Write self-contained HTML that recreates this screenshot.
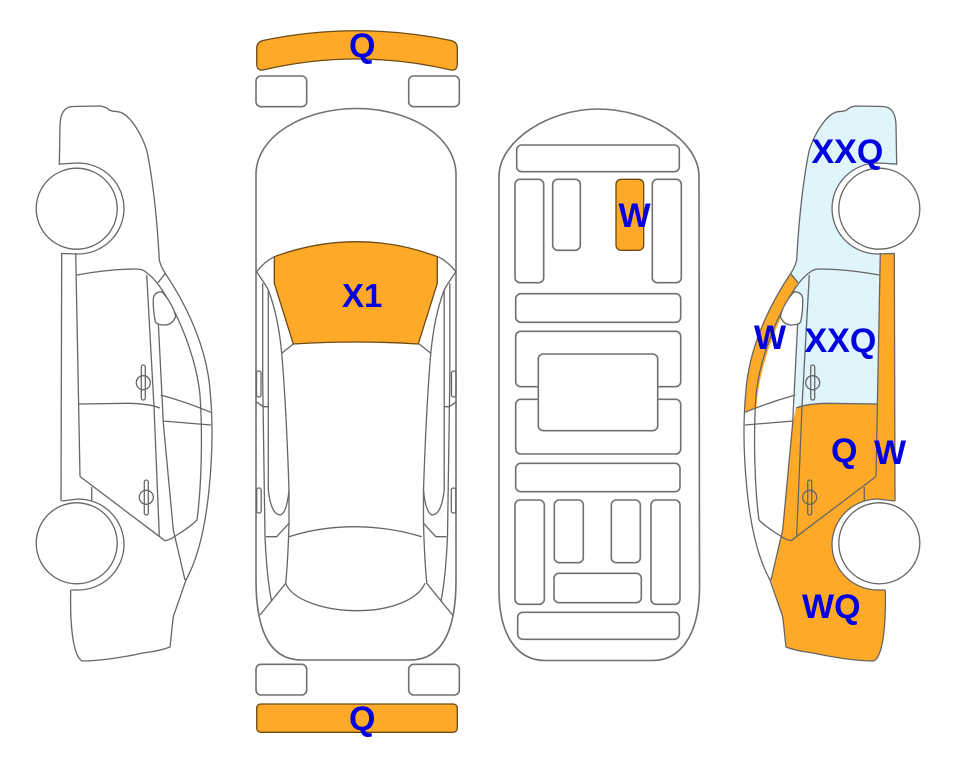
<!DOCTYPE html>
<html><head><meta charset="utf-8"><title>Car diagram</title>
<style>
html,body{margin:0;padding:0;background:#fff}
svg{display:block}
text{font-family:"Liberation Sans",sans-serif;font-weight:bold;font-size:34px;fill:#0000e0}
.l{fill:none;stroke:#666;stroke-width:1.3;stroke-linejoin:round}
.r{fill:none;stroke:#707070;stroke-width:1.6}
.o{fill:#ffa928;stroke:#6b4a14;stroke-width:1.3}
.f{fill:#ffa928;stroke:none}
.b{fill:#dff4fb;stroke:none}
</style></head><body>
<svg width="963" height="768" viewBox="0 0 963 768" xmlns="http://www.w3.org/2000/svg">
<defs>
<g id="lines">
<path class="l" d="M59.3,165 L60,125 Q60.5,107 73,106.5 L100,106 Q106,106.5 110,110.5 Q114,111.5 118,111.7 C128,113 140,130 146.7,150 C152,175 157,215 159.3,260 Q161,267 165,273 C180,295 206,340 210,390 C213,420 213,450 209,490 C205,530 197,560 186,580 L173.5,616 C172,625 171,640 170,647 C160,651 150,652 143,653 C125,657 100,661 82,661 C72,655 70,620 70.7,590"/>
<path class="l" d="M76.7,275 Q110,269 136.7,269 Q143,269 147,273 C165,285 195,345 200,395 C203,440 201,490 197,520 Q190,527 177,535 Q170,540 165,540.7 L158.3,535.7 L80,476.5"/>
<path class="l" d="M61.7,253 L61,501 M75.7,253 L80,476.5 M91.7,487 L91.7,501 M146.7,275 L154,406.7 L159.3,535.7 M158.3,323 L161.7,390 L163.3,423 L173.3,530 L185,580 M79,404 L130,403.3 Q150,404 160,408 M160.7,395 Q186,402 211,412.3 M162.7,421 L211,425 M158,282.7 L165.7,273"/>
<path class="l" d="M59.3,164 L78,163 A46,45.5 0 0 1 78,254 L61.7,253.5 M61.7,501 L78,499 A46,45.5 0 0 1 78,590 L71,590"/>
<path class="l" style="fill:#fff" d="M153.3,299 Q154,292 161.7,291.7 C168,298 174,308 175.7,316.7 Q172,325 165,325 Q155,325 155,320 Q153,310 153.3,299 Z"/>
<circle class="l" cx="143.3" cy="382.7" r="7"/>
<rect class="l" x="141.3" y="365" width="4" height="35" rx="2"/>
<circle class="l" cx="146.3" cy="497.3" r="7"/>
<rect class="l" x="144.3" y="480" width="4" height="35" rx="2"/>
<circle class="l" cx="76.7" cy="208.7" r="40.5" style="fill:#fff"/>
<circle class="l" cx="76.7" cy="543.3" r="40.5" style="fill:#fff"/>
</g>
<g id="half">
<path class="l" d="M256.7,271.7 C262,280 266,285 268.3,290 C276,310 280,335 281.7,353.3 L293.3,344 M281.7,353.3 C284,380 287,430 289,490 L289,523.3 Q288,560 285.7,583.3 L260,615"/>
<path class="l" d="M262.7,283.3 L262.7,380 L265,536.7 Q267,580 271.7,601.7 M268.3,290 L268.3,490 Q271,515 280.7,515 Q287,512 289,490"/>
<path class="l" d="M256,401.7 L263.3,406.7 L268.3,406.7 M266,536.7 L276.7,536.7 L289,523.3"/>
<rect class="l" x="256.5" y="371" width="4.5" height="26" rx="2"/>
<rect class="l" x="256.7" y="488" width="4.5" height="25" rx="2"/>
<path class="l" d="M256.7,271.7 Q264,262 274.3,256.7"/>
</g>
</defs>

<use href="#lines"/>

<!-- top view -->
<path class="o" d="M263,40.5 Q356,21 451,40.5 Q457.3,42 457.3,48 L457.3,64 Q457,71 451,70 Q356,48 263,70 Q257,71 256.7,64 L256.7,48 Q257,42 263,40.5 Z"/>
<rect class="r" x="256" y="76" width="50.7" height="30.7" rx="5"/>
<rect class="r" x="408.7" y="76" width="50.6" height="30.7" rx="5"/>
<path class="r" d="M256,175 C256,135 305,108.5 356.5,108.5 C408,108.5 456,135 456,175 L456,580 C456,635 440,660 410,660 L301.7,660 C272,660 256,635 256,580 Z"/>
<path class="o" d="M274.3,256.7 Q315,241.7 356.7,241.7 Q398,241.7 437.3,256.7 L437.3,283.3 L418.3,344 Q356,340 293.3,344 L274.3,283.3 Z"/>
<use href="#half"/>
<use href="#half" transform="translate(712.5,0) scale(-1,1)"/>
<path class="l" d="M289,536.7 Q320,526.7 356,526.7 Q390,527 421.7,536.7 M285.7,583.3 C292,600 325,610.7 356.7,610.7 C390,610.7 418,600 425,583.3"/>
<rect class="r" x="256" y="664.3" width="50.7" height="30.7" rx="5"/>
<rect class="r" x="408.7" y="664.3" width="50.6" height="30.7" rx="5"/>
<rect class="o" x="256.7" y="704" width="200.6" height="28.3" rx="4"/>

<!-- underside -->
<path class="r" d="M499,176.7 C499,140 550,109 598,109 C648,109 699,140 699,176.7 L699.5,587 C699.5,635 680,660.5 653,660.5 L545,660.5 C517,660.5 499,635 499,590 Z"/>
<g class="r">
<rect x="516.7" y="145" width="162.6" height="26.7" rx="5"/>
<rect x="515" y="179.3" width="28.7" height="103.4" rx="5"/>
<rect x="552.7" y="179.3" width="27.6" height="71" rx="5"/>
<rect x="652.3" y="179.3" width="29" height="103.4" rx="5"/>
<rect x="515.7" y="293.7" width="165" height="28.6" rx="5"/>
<rect x="515.7" y="331.3" width="165" height="55.4" rx="5"/>
<rect x="515.7" y="399.3" width="165" height="54.7" rx="5"/>
<rect x="538.3" y="354" width="119.4" height="76.7" rx="5" style="fill:#fff"/>
<rect x="515.7" y="463.3" width="164.3" height="28.4" rx="5"/>
<rect x="515" y="500" width="29.3" height="104.3" rx="5"/>
<rect x="554.3" y="500" width="29" height="62.7" rx="5"/>
<rect x="611.3" y="500" width="29" height="62.7" rx="5"/>
<rect x="651" y="500" width="29" height="104.3" rx="5"/>
<rect x="554" y="573.3" width="87.3" height="29.4" rx="5"/>
<rect x="517.7" y="612.3" width="161.6" height="27" rx="5"/>
</g>
<rect class="o" x="616" y="179.3" width="27.7" height="71" rx="5"/>

<!-- coloured side view -->
<g transform="translate(956,0) scale(-1,1)">
<path class="b" d="M59.3,165 L60,125 Q60.5,107 73,106.5 L100,106 Q106,106.5 110,110.5 Q114,111.5 118,111.7 C128,113 140,130 146.7,150 C152,175 157,215 159.3,260 Q161,267 165,273 L158,282.7 L147,273 Q143,269 136.7,269 Q110,269 76.7,275 L75.7,253 L61.7,253 Z"/>
<path class="b" d="M76.7,275 Q110,269 136.7,269 Q143,269 147,273 L158,283 L165,300 L158.3,323 L161.7,390 L160,408 L79,404 Z"/>
<path class="f" d="M61.7,253 L75.7,253 L79,404 L80,476.5 L91.7,487 L91.7,502 L61,502 Z"/>
<path class="f" d="M165.7,273 C180,295 206,340 210,390 L211,412.5 L199.5,407 C197,365 178,320 158,282.7 Z"/>
<path class="f" d="M79,404 Q110,403 130,403.3 Q150,404 160,408 L163.3,423 L173.3,530 L185,580 L173.5,616 C172,625 171,640 170,647 C160,651 150,652 143,653 C125,657 100,661 82,661 C72,655 70,620 70.7,585 L70,520 L80,476.5 Z"/>
<circle cx="78" cy="208.5" r="45.5" fill="#fff"/>
<circle cx="78" cy="544.5" r="45.5" fill="#fff"/>
<use href="#lines"/>
</g>

<text x="349" y="57">Q</text>
<text x="342" y="307" style="font-size:33px">X1</text>
<text x="349" y="730">Q</text>
<text x="618.5" y="227">W</text>
<text x="811.5" y="163">XXQ</text>
<text x="754" y="349">W</text>
<text x="804.5" y="352">XXQ</text>
<text x="831" y="462">Q</text>
<text x="874" y="464">W</text>
<text x="802" y="618">WQ</text>
</svg>
</body></html>
